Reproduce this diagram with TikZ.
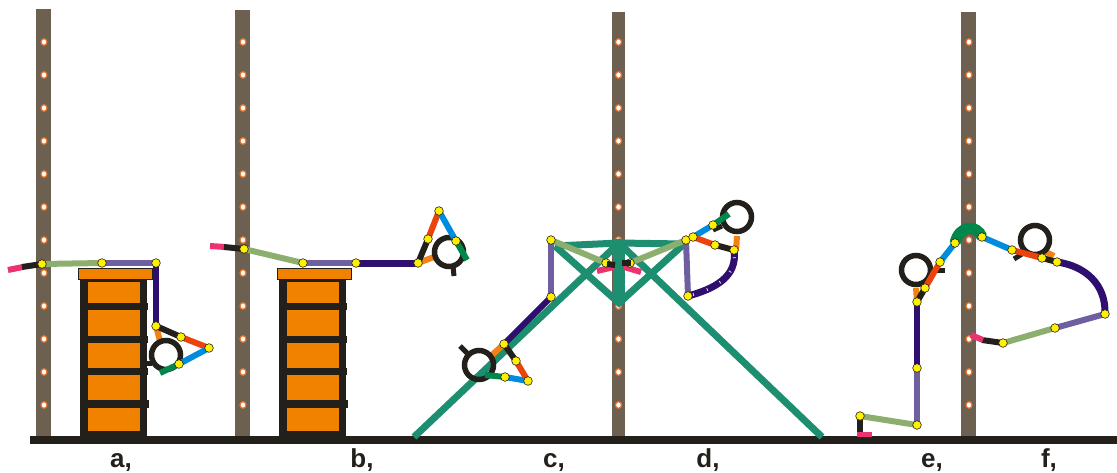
\documentclass[tikz,border=0pt]{standalone}
\usepackage{fontspec}
\setmainfont{Liberation Sans}
\definecolor{polec}{RGB}{110,96,80}
\definecolor{dotrim}{RGB}{232,112,40}
\definecolor{darkc}{RGB}{35,31,27}
\definecolor{chestc}{RGB}{240,130,0}
\definecolor{olivec}{RGB}{140,174,110}
\definecolor{lavc}{RGB}{110,96,160}
\definecolor{indigoc}{RGB}{46,14,110}
\definecolor{redc}{RGB}{236,66,12}
\definecolor{bluec}{RGB}{0,140,222}
\definecolor{greenc}{RGB}{0,136,76}
\definecolor{orangec}{RGB}{242,130,20}
\definecolor{pinkc}{RGB}{236,50,112}
\definecolor{tealc}{RGB}{30,142,112}
\definecolor{jointc}{RGB}{255,240,0}
\tikzset{
  limb/.style={line width=6pt, line cap=butt},
  frame/.style={tealc, line width=7pt, line cap=butt},
  ringline/.style={darkc, line width=5.5pt},
  stub/.style={darkc, line width=5pt, line cap=butt},
  lab/.style={text=darkc, font=\bfseries\fontsize{26}{26}\selectfont, anchor=base, inner sep=0pt},
}
% yellow hinge between two limb segments
\newcommand\hinge[1]{\filldraw[fill=jointc, draw=darkc, line width=0.6pt] (#1) circle (4.3pt);}
% ring held by the hand, with its short grip stub
\newcommand\handring[3]{\draw[ringline] (#1) circle (14.5pt); \draw[stub] (#2) -- (#3);}
% chest of drawers, shifted right by #1
\newcommand\chest[1]{%
  \begin{scope}[xshift=#1pt]
    \fill[darkc] (80,279) rectangle (147,437);
    \fill[chestc] (88,282) rectangle (140,431);
    \fill[darkc] (80,303) rectangle (148,310);
    \fill[darkc] (80,336) rectangle (148,343);
    \fill[darkc] (80,368) rectangle (148,375);
    \fill[darkc] (80,400) rectangle (149,408);
    \filldraw[fill=chestc, draw=darkc, line width=0.8pt] (78,268) rectangle (152,279);
  \end{scope}}
\begin{document}
\begin{tikzpicture}[x=1pt,y=-1pt]
\useasboundingbox (0,0) rectangle (1117,472);

% poles with their holes
\foreach \px/\top/\w in {43.5/9/15, 242.5/10/15, 618/12/13, 968.5/12/15}{
  \fill[polec] (\px-\w/2,\top) rectangle (\px+\w/2,440);
  \foreach \k in {0,...,11}{
    \filldraw[fill=white, draw=dotrim, line width=1.2pt] (\px+0.5,42+33*\k) ellipse (3pt and 3.3pt);}
}

% floor
\fill[darkc] (30,435.5) rectangle (1117,443.5);

% chests
\chest{0}
\chest{199}

% A-frame
\coordinate (T) at (619,243);
\coordinate (LL) at (414,437);
\coordinate (RL) at (822,437);
\coordinate (BL) at (555,246);
\coordinate (BR) at (684,244);
\coordinate (VB) at (619,303);
\draw[frame] (LL) -- (T) -- (RL);
\draw[frame] (BL) -- (T) -- (BR);
\draw[frame, line join=miter] (BL) -- (VB) -- (BR);
\draw[tealc, line width=12pt] (619,239) -- (619,301);

% ---------- a ----------
\coordinate (a1) at (42,264);
\coordinate (a2) at (102,263);
\coordinate (a3) at (156,263);
\coordinate (a4) at (156,326);
\coordinate (a5) at (181,337);
\coordinate (a6) at (209,348);
\coordinate (a7) at (179,364);
\draw[limb, pinkc] (8,270) -- (23,267);
\draw[limb, darkc] (22,267) -- (a1);
\draw[limb, olivec] (a1) -- (a2);
\draw[limb, lavc] (a2) -- (a3);
\draw[limb, indigoc] (a3) -- (a4);
\draw[limb, orangec] (a4) -- (160,341);
\handring{166,355}{152,363}{145,363}
\draw[limb, darkc] (a4) -- (a5);
\draw[limb, redc] (a5) -- (a6);
\draw[limb, bluec] (a6) -- (a7);
\draw[limb, greenc] (a7) -- (160,373);
\foreach \j in {a1,a2,a3,a4,a5,a6,a7}{\hinge{\j}}

% ---------- b ----------
\coordinate (b1) at (244,249);
\coordinate (b2) at (303,263);
\coordinate (b3) at (356,263);
\coordinate (b4) at (418,263);
\coordinate (b5) at (428,239);
\coordinate (b6) at (439,211);
\coordinate (b7) at (456,241);
\draw[limb, pinkc] (210,246) -- (225,247);
\draw[limb, darkc] (224,247) -- (b1);
\draw[limb, olivec] (b1) -- (b2);
\draw[limb, lavc] (b2) -- (b3);
\draw[limb, indigoc, line width=7pt] (b3) -- (b4);
\draw[limb, orangec] (b4) -- (434,257);
\handring{449,252}{453,266}{454,276}
\draw[limb, darkc] (b4) -- (b5);
\draw[limb, redc] (b5) -- (b6);
\draw[limb, bluec] (b6) -- (b7);
\draw[limb, greenc] (b7) -- (467,260);
\foreach \j in {b1,b2,b3,b4,b5,b6,b7}{\hinge{\j}}

% ---------- c ----------
\coordinate (c0) at (606,263);
\coordinate (c1) at (551,240);
\coordinate (c2) at (551,297);
\coordinate (c3) at (504,344);
\coordinate (c4) at (516,361);
\coordinate (c5) at (528,381);
\coordinate (c6) at (505,377);
\draw[limb, pinkc] (597,271) -- (614,267);
\draw[limb, olivec] (c0) -- (c1);
\draw[limb, lavc] (c1) -- (c2);
\draw[limb, indigoc] (c2) -- (c3);
\draw[limb, orangec] (c3) -- (492,355);
\handring{479,365}{467,353}{460,346}
\draw[limb, darkc] (c3) -- (c4);
\draw[limb, redc] (c4) -- (c5);
\draw[limb, bluec] (c5) -- (c6);
\draw[limb, greenc] (c6) -- (485,375);
\foreach \j in {c0,c1,c2,c3,c4,c5,c6}{\hinge{\j}}
\draw[limb, darkc] (607,264) -- (615,265);

% ---------- d ----------
\coordinate (d0) at (630,263);
\coordinate (d1) at (686,240);
\coordinate (d2) at (688,296);
\coordinate (d3) at (693,237);
\coordinate (d4) at (713,225);
\coordinate (d5) at (715,245);
\coordinate (d6) at (734,250);
\draw[limb, pinkc] (624,267) -- (641,272);
\draw[limb, olivec] (d0) -- (d1);
\draw[limb, lavc] (d1) -- (d2);
\draw[limb, indigoc, line width=7pt] (d2) .. controls (714,289) and (738,277) .. (d6);
\draw[white, line width=3pt, dash pattern=on 0.7pt off 14pt, dash phase=-20pt]
  (d2) .. controls (714,289) and (738,277) .. (d6);
\draw[limb, orangec] (736,251) -- (737,236);
\handring{737,217}{722,226}{713,230}
\draw[limb, bluec] (d3) -- (d4);
\draw[limb, greenc] (d4) -- (729,214);
\draw[limb, redc] (d3) -- (d5);
\draw[limb, darkc] (d5) -- (d6);
\foreach \j in {d0,d1,d2,d3,d4,d5,d6}{\hinge{\j}}
\draw[limb, darkc] (622,263) -- (631,263);

% ---------- e ----------
\coordinate (e1) at (860,416);
\coordinate (e2) at (917,425);
\coordinate (e3) at (917,368);
\coordinate (e4) at (917,302);
\coordinate (e5) at (925,288);
\coordinate (e6) at (940,262);
\coordinate (e7) at (955,243);
\coordinate (e8) at (982,237);
\draw[pinkc, line width=5pt] (857,434) -- (872,434);
\draw[limb, darkc] (860,432) -- (e1);
\draw[limb, olivec] (e1) -- (e2);
\draw[limb, lavc] (e2) -- (e3);
\draw[limb, indigoc] (e3) -- (e4);
\draw[limb, orangec] (e4) -- (916,288);
\handring{916,270}{932,270}{945,270}
\draw[limb, darkc] (e4) -- (e5);
\draw[limb, redc] (e5) -- (e6);
\draw[limb, bluec] (e6) -- (e7);
\draw[greenc, line width=11pt] (e7) .. controls (959,225) and (977,224) .. (e8);

% ---------- f ----------
\coordinate (f2) at (1012,250);
\coordinate (f3) at (1042,258);
\coordinate (f4) at (1057,262);
\coordinate (f5) at (1105,314);
\coordinate (f6) at (1055,328);
\coordinate (f7) at (1003,343);
\draw[limb, orangec] (1046,252) -- (1054,256);
\handring{1035,240}{1022,254}{1014,259}
\draw[limb, bluec] (e8) -- (f2);
\draw[limb, redc] (f2) -- (f3);
\draw[limb, darkc] (f3) -- (f4);
\draw[limb, indigoc, line width=7pt] (f4) .. controls (1085,266) and (1106,284) .. (f5);
\draw[limb, lavc] (f5) -- (f6);
\draw[limb, olivec] (f6) -- (f7);
\draw[limb, darkc] (f7) -- (982,340);
\draw[limb, pinkc] (983,340) -- (971,335);
\foreach \j in {e1,e2,e3,e4,e5,e6,e7,e8,f2,f3,f4,f5,f6,f7}{\hinge{\j}}

% captions
\node[lab] (la) at (121,467) {a,};
\node[lab] (lb) at (362,467) {b,};
\node[lab] (lc) at (554,467) {c,};
\node[lab] (ld) at (708,467) {d,};
\node[lab] (le) at (932,467) {e,};
\node[lab] (lf) at (1049,467) {f,};
\end{tikzpicture}
\end{document}
